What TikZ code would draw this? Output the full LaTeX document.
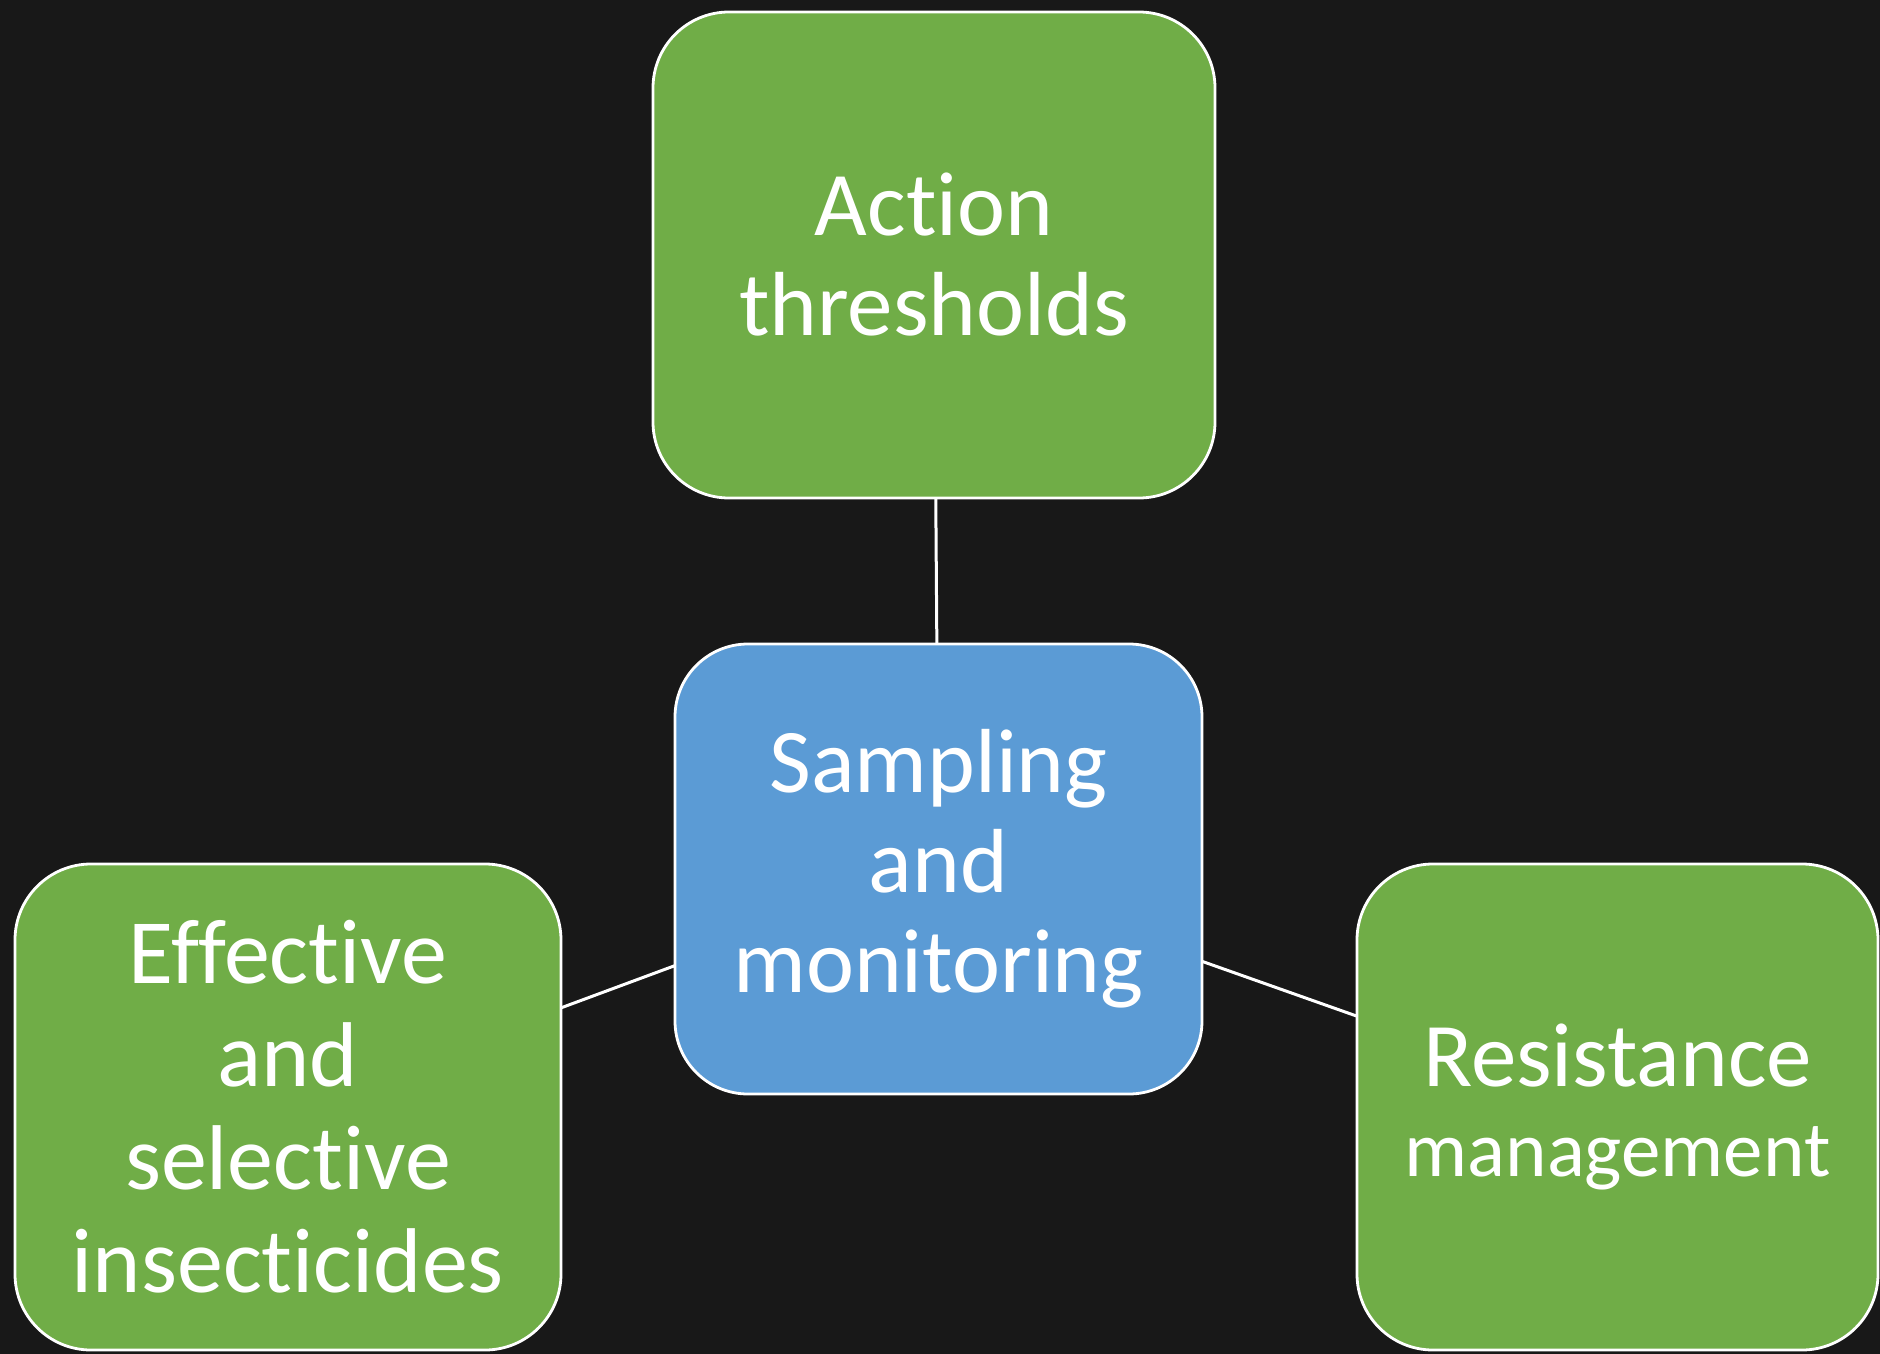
\documentclass[tikz,border=0pt]{standalone}
\usepackage{fontspec}
\setmainfont{Carlito}[Ligatures=NoCommon]
\definecolor{bgcol}{HTML}{181818}
\definecolor{boxgreen}{HTML}{70AD47}
\definecolor{boxblue}{HTML}{5B9BD5}
\begin{document}
\begin{tikzpicture}[x=1pt,y=-1pt,
  box/.style={draw=white, line width=2.8pt, rounded corners=76pt, inner sep=0pt, outer sep=0pt,
    align=center, text=white, font=\fontsize{91}{100}\selectfont},
  greenbox/.style={box, fill=boxgreen},
  bluebox/.style={box, fill=boxblue},
  link/.style={draw=white, line width=3pt}]
\fill[bgcol] (0,0) rectangle (1880,1354);
\useasboundingbox (0,0) rectangle (1880,1354);
\node[greenbox, minimum width=562pt, minimum height=486pt] (top) at (934,255) {Action\\thresholds};
\node[bluebox, minimum width=527pt, minimum height=450pt, rounded corners=73pt] (mid) at (938.5,869) {Sampling\\and\\monitoring};
\node[greenbox, minimum width=546pt, minimum height=486pt, font=\fontsize{92}{103}\selectfont] (left) at (288,1107) {Effective\\and\\selective\\insecticides};
\node[greenbox, minimum width=521pt, minimum height=486pt] (right) at (1617.5,1107) {Resistance\\[-10pt]{\fontsize{79}{90}\selectfont management}};
\draw[link] (mid) -- (top);
\draw[link] (mid) -- (left);
\draw[link] (mid) -- (right);
\end{tikzpicture}
\end{document}
